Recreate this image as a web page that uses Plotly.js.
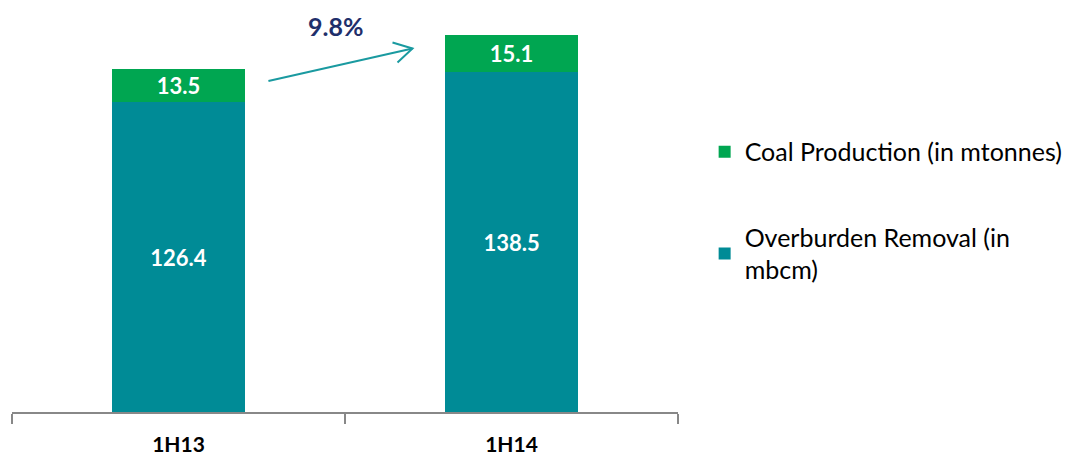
<!DOCTYPE html>
<html>
<head>
<meta charset="utf-8">
<script src="https://cdn.plot.ly/plotly-3.0.1.min.js"></script>
<style>html,body{margin:0;padding:0;background:#fff;}#chart{width:1072px;height:460px;}</style>
</head>
<body>
<div id="chart"></div>
<script>
const categories = ["1H13", "1H14"];
const overburden = [126.4, 138.5];
const coal = [13.5, 15.1];
const growthLabel = "9.8%";
const seriesNames = ["Overburden Removal (in<br>mbcm)", "Coal Production (in mtonnes)"];

const FONT = "Lato, 'Open Sans', sans-serif";

const traces = [
  {
    type: "bar", name: seriesNames[0], x: categories, y: overburden, legendgroup: "ob", legendrank: 2,
    marker: {color: "#008B96"}, width: 0.4,
    text: overburden.map(v => v.toFixed(1)), textposition: "inside", insidetextanchor: "middle",
    textfont: {color: "#fff", size: 22, family: FONT, weight: "bold"}, hoverinfo: "none"
  },
  {
    type: "bar", name: seriesNames[1], x: categories, y: coal, legendgroup: "coal", legendrank: 1,
    marker: {color: "#00A651"}, width: 0.4,
    text: coal.map(v => v.toFixed(1)), textposition: "inside", insidetextanchor: "middle",
    textfont: {color: "#fff", size: 22, family: FONT, weight: "bold"}, hoverinfo: "none"
  }
];

const ARROW = "#1A9AA0";
const layout = {
  width: 1072, height: 460,
  margin: {l: 12, r: 394, t: 0, b: 48},
  barmode: "stack",
  paper_bgcolor: "#fff", plot_bgcolor: "#fff",
  font: {family: FONT, color: "#000"},
  xaxis: {
    type: "category", range: [-0.5, 1.5],
    showline: true, linecolor: "#888", linewidth: 2,
    ticks: "outside", tickcolor: "#888", ticklen: 10, tickwidth: 2,
    tickson: "boundaries", ticklabelstandoff: 13,
    tickfont: {size: 21, family: FONT, color: "#000", weight: "bold"},
    showgrid: false, zeroline: false
  },
  yaxis: {range: [0, 168], visible: false, showgrid: false, zeroline: false},
  legend: {
    x: 1.04, y: 0.687, xanchor: "left", yanchor: "top",
    traceorder: "grouped", tracegroupgap: 50,
    font: {size: 25, family: FONT, color: "#000"},
    itemwidth: 30
  },
  showlegend: true,
  shapes: [
    {type: "line", xref: "x", yref: "y", x0: 0.27, y0: 135.0, x1: 0.7027, y1: 148.2,
     line: {color: ARROW, width: 2}},
    {type: "path", xref: "x", yref: "y", xsizemode: "pixel", ysizemode: "pixel",
     xanchor: 0.7027, yanchor: 148.2, path: "M-20,6 L0,0 L-15,-14",
     line: {color: ARROW, width: 2}}
  ],
  annotations: [
    {
      x: 0.47, y: 157.5, xref: "x", yref: "y", showarrow: false,
      text: "<b>" + growthLabel + "</b>",
      font: {size: 25, family: FONT, color: "#1F2F6B"}
    }
  ]
};

Plotly.newPlot("chart", traces, layout, {displayModeBar: false, staticPlot: true});
</script>
</body>
</html>
